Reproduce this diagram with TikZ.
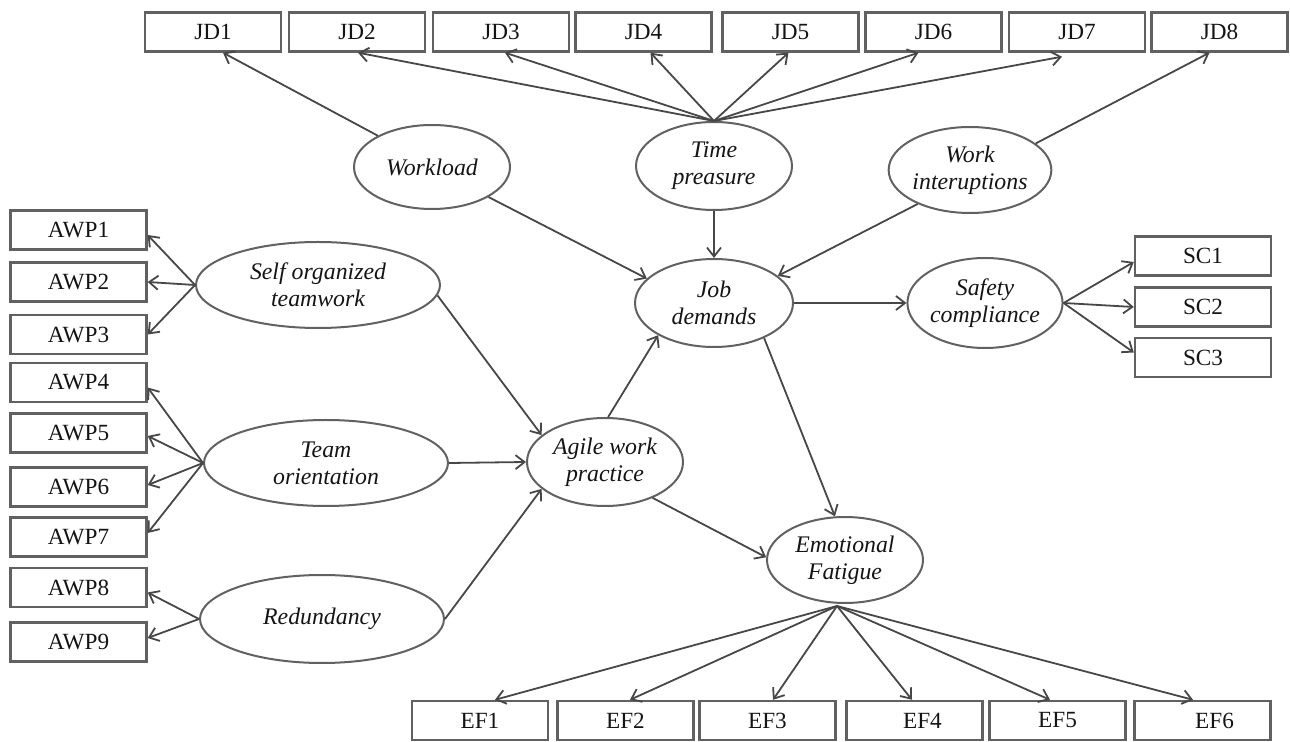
\documentclass[tikz,border=0pt]{standalone}
\usepackage{fontspec}
\setmainfont{Liberation Serif}
\usetikzlibrary{shapes.geometric,arrows.meta,calc}
\begin{document}
\begin{tikzpicture}[x=0.5pt,y=-0.5pt,
  font=\fontsize{11.6}{13.5}\selectfont,
  obs/.style={draw=black!62,line width=1.2pt,minimum width=68pt,minimum height=19.5pt,inner sep=0pt,text=black!92},
  lat/.style={ellipse,draw=black!62,line width=1pt,inner sep=0pt,align=center,text=black!92,font=\fontsize{11.9}{13.5}\selectfont\itshape},
  conn/.style={draw=black!72,line width=0.9pt,-{Straight Barb[length=4.5pt,width=7pt]}}
]
\useasboundingbox (0,0) rectangle (1290,742);

% indicator boxes: job demands
\node[obs] (jd1) at (213,32) {JD1};
\node[obs] (jd2) at (357,32) {JD2};
\node[obs] (jd3) at (501,32) {JD3};
\node[obs] (jd4) at (643.5,32) {JD4};
\node[obs] (jd5) at (790.5,32) {JD5};
\node[obs] (jd6) at (933.5,32) {JD6};
\node[obs] (jd7) at (1077,32) {JD7};
\node[obs] (jd8) at (1219.5,32) {JD8};

% agile work practice indicators
\node[obs] (awp1) at (78.5,230) {AWP1};
\node[obs] (awp2) at (78.5,282) {AWP2};
\node[obs] (awp3) at (78.5,334.5) {AWP3};
\node[obs] (awp4) at (78.5,382.5) {AWP4};
\node[obs] (awp5) at (78.5,433) {AWP5};
\node[obs] (awp6) at (78.5,487) {AWP6};
\node[obs] (awp7) at (78.5,537) {AWP7};
\node[obs] (awp8) at (78.5,587.5) {AWP8};
\node[obs] (awp9) at (78.5,642) {AWP9};

% safety compliance indicators
\node[obs] (sc1) at (1203,256) {SC1};
\node[obs] (sc2) at (1203,307) {SC2};
\node[obs] (sc3) at (1203,357.5) {SC3};

% emotional fatigue indicators
\node[obs] (ef1) at (480,720.5) {EF1};
\node[obs] (ef2) at (625.5,720.5) {EF2};
\node[obs] (ef3) at (767.5,720.5) {EF3};
\node[obs] (ef4) at (914.5,720.5) {\hspace*{8pt}EF4};
\node[obs] (ef5) at (1057.5,720.5) {EF5};
\node[obs] (ef6) at (1202.5,720.5) {\hspace*{12pt}EF6};

% latent constructs
\node[lat,minimum width=78pt,minimum height=42pt] (wl) at (432,167) {Workload};
\node[lat,minimum width=78pt,minimum height=44pt] (tp) at (714,166) {Time\\preasure};
\node[lat,minimum width=78pt,minimum height=43pt] (wi) at (970,170) {Work\\interuptions};
\node[lat,minimum width=122pt,minimum height=43pt] (sot) at (318,285) {Self organized\\teamwork};
\node[lat,minimum width=122pt,minimum height=43pt] (to) at (326,463) {Team\\orientation};
\node[lat,minimum width=122pt,minimum height=44pt] (red) at (322,619) {Redundancy};
\node[lat,minimum width=79pt,minimum height=44pt] (jd) at (714,303) {Job\\demands};
\node[lat,minimum width=77.5pt,minimum height=45pt] (sc) at (985,303) {Safety\\compliance};
\node[lat,minimum width=78pt,minimum height=44pt] (awp) at (605,462) {Agile work\\practice};
\node[lat,minimum width=78pt,minimum height=43pt] (ef) at (845,560) {Emotional\\Fatigue};

% job demands indicators
\draw[conn] (wl.150) -- ($(jd1.south)+(10,0)$);
\draw[conn] (tp.north) -- ($(jd2.south)+(1,0)$);
\draw[conn] (tp.north) -- ($(jd3.south)+(4,0)$);
\draw[conn] (tp.north) -- ($(jd4.south)+(7,0)$);
\draw[conn] (tp.north) -- ($(jd5.south)+(-2,0)$);
\draw[conn] (tp.north) -- ($(jd6.south)+(-15,0)$);
\draw[conn] (tp.north) -- ($(jd7.south)+(-15,4)$);
\draw[conn] (wi.22) -- ($(jd8.south)+(-10,0)$);

% structural paths
\draw[conn] (wl.-28) -- (jd.160);
\draw[conn] (tp.south) -- (jd.north);
\draw[conn] (wi.-147) -- (jd.23);
\draw[conn] (jd.east) -- (sc.west);
\draw[conn] (sot.-5) -- (awp.157);
\draw[conn] (to.east) -- (awp.west);
\draw[conn] (red.east) -- (awp.-157);
\draw[conn] (awp.86) -- (jd.-150);
\draw[conn] (awp.-37) -- (ef.178);
\draw[conn] (jd.-35) -- (ef.103);

% safety compliance indicators
\draw[conn] (sc.east) -- ($(sc1.west)+(0,6)$);
\draw[conn] (sc.east) -- (sc2.west);
\draw[conn] (sc.east) -- ($(sc3.west)+(0,-5)$);

% agile work practice indicators
\draw[conn] (sot.west) -- ($(awp1.east)+(0,5)$);
\draw[conn] (sot.west) -- (awp2.east);
\draw[conn] (sot.west) -- (awp3.east);
\draw[conn] (to.west) -- ($(awp4.east)+(0,5)$);
\draw[conn] (to.west) -- ($(awp5.east)+(0,3)$);
\draw[conn] (to.west) -- ($(awp6.east)+(0,-2)$);
\draw[conn] (to.west) -- ($(awp7.east)+(0,-4)$);
\draw[conn] (red.west) -- ($(awp8.east)+(0,5)$);
\draw[conn] (red.west) -- ($(awp9.east)+(0,-4)$);

% emotional fatigue indicators
\coordinate (efo) at ($(ef.south)+(-8,2)$);
\draw[conn] (efo) -- ($(ef1.north)+(15,0)$);
\draw[conn] (efo) -- ($(ef2.north)+(4.5,0)$);
\draw[conn] (efo) -- ($(ef3.north)+(5.5,0)$);
\draw[conn] (efo) -- ($(ef4.north)+(-2.5,0)$);
\draw[conn] (efo) -- ($(ef5.north)+(-7.5,0)$);
\draw[conn] (efo) -- ($(ef6.north)+(-9.5,0)$);
\end{tikzpicture}
\end{document}
